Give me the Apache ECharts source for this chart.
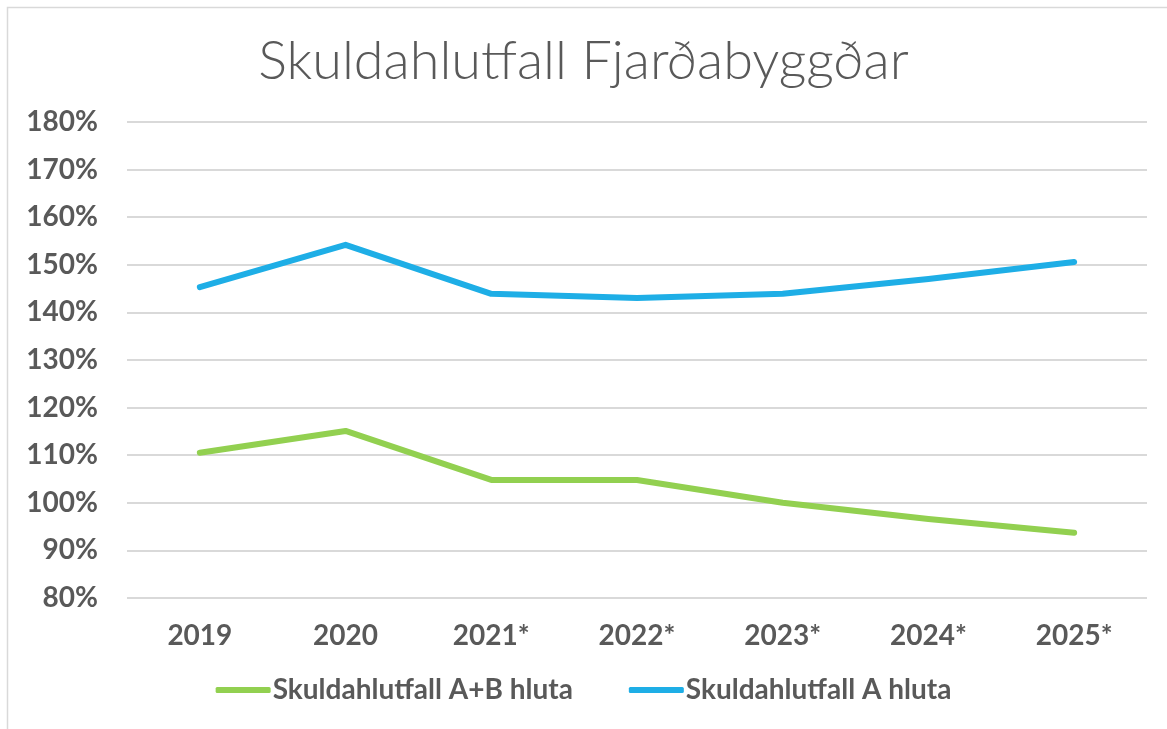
<!DOCTYPE html>
<html>

<head>
    <meta charset="utf-8">
    <script src="https://cdn.jsdelivr.net/npm/echarts@6/dist/echarts.min.js"></script>
    <style>
        html, body { margin: 0; padding: 0; background: #fff; }
        #main { width: 1167px; height: 729px; }
    </style>
</head>

<body>
    <div id="main"></div>
    <script type="text/javascript">

        // gögn lesin af myndinni
        var years = ['2019', '2020', '2021*', '2022*', '2023*', '2024*', '2025*'];
        var seriesNames = ['Skuldahlutfall A+B hluta', 'Skuldahlutfall A hluta'];
        var hlutiAB = [110.5, 115.1, 104.8, 104.8, 100.0, 96.6, 93.7];
        var hlutiA = [145.3, 154.2, 143.9, 143.0, 143.9, 147.0, 150.6];
        var yMin = 80, yMax = 180, yStep = 10;

        var textColor = '#595959';
        var fontFam = 'Lato, "Open Sans", sans-serif';

        var myChart = echarts.init(document.getElementById('main'));
        myChart.setOption({
            animation: false,
            backgroundColor: '#fff',
            title: {
                text: 'Skuldahlutfall Fjarðabyggðar',
                left: 'center',
                top: 30,
                textStyle: { color: textColor, fontSize: 54, fontWeight: 300, fontFamily: fontFam }
            },
            graphic: [{
                type: 'rect',
                shape: { x: 7.5, y: 7.5, width: 1170, height: 740 },
                style: { fill: 'none', stroke: '#d9d9d9', lineWidth: 1.5 },
                silent: true
            }],
            legend: {
                bottom: 20,
                left: 'center',
                itemWidth: 55,
                itemHeight: 6,
                itemGap: 56,
                icon: 'roundRect',
                textStyle: { color: textColor, fontSize: 28, fontWeight: 'bold', fontFamily: fontFam, padding: [0, 0, 0, -3] },
                data: seriesNames
            },
            grid: { left: 127, right: 20, top: 122, bottom: 131 },
            xAxis: {
                type: 'category',
                data: years,
                boundaryGap: true,
                axisLine: { show: false },
                axisTick: { show: false },
                axisLabel: { color: textColor, fontSize: 28, fontWeight: 'bold', fontFamily: fontFam, margin: 24 }
            },
            yAxis: {
                type: 'value',
                min: yMin,
                max: yMax,
                interval: yStep,
                axisLine: { show: false },
                axisTick: { show: false },
                splitLine: { lineStyle: { color: '#d9d9d9', width: 2 } },
                axisLabel: {
                    color: textColor, fontSize: 28, fontWeight: 'bold', fontFamily: fontFam, margin: 29,
                    formatter: function (v) { return v + '%'; }
                }
            },
            series: [{
                name: seriesNames[0],
                type: 'line',
                data: hlutiAB,
                symbol: 'none',
                lineStyle: { color: '#92d050', width: 6, cap: 'round', join: 'round' },
                itemStyle: { color: '#92d050' }
            }, {
                name: seriesNames[1],
                type: 'line',
                data: hlutiA,
                symbol: 'none',
                lineStyle: { color: '#1eaee6', width: 6, cap: 'round', join: 'round' },
                itemStyle: { color: '#1eaee6' }
            }]
        });
    </script>
</body>

</html>
